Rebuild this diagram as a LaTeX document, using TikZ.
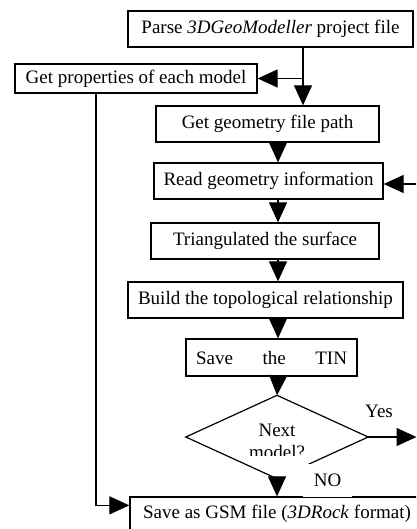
\documentclass[tikz,border=0pt]{standalone}
\usepackage{fontspec}
\setmainfont{Liberation Serif}
\usetikzlibrary{arrows.meta,shapes.geometric,calc}
\begin{document}
\begin{tikzpicture}[x=1pt,y=-1pt,
  every node/.style={font=\fontsize{19}{22}\selectfont},
  box/.style={draw,line width=1.3pt,rectangle,inner sep=0pt,anchor=center},
  arr/.style={line width=1.2pt,-{Triangle[length=20pt,width=18pt]}},
  ln/.style={line width=1.2pt}]
\clip (0,0) rectangle (416,529);
\fill[white] (0,0) rectangle (416,529);
% axes
\coordinate (axis) at (278,0);
\coordinate (pline) at (303,0);
\coordinate (lline) at (96,0);
% boxes
\node[box,minimum width=285pt,minimum height=36pt] (parse) at (270.5,29) {Parse \textit{3DGeoModeller} project file};
\node[box,minimum width=242pt,minimum height=29pt] (props) at (136,78.5) {Get properties of each model};
\node[box,minimum width=223pt,minimum height=36pt] (geom) at (267.5,124) {Get geometry file path};
\node[box,minimum width=229pt,minimum height=36pt] (read) at (268.5,181) {Read geometry information};
\node[box,minimum width=228pt,minimum height=36pt] (tri) at (265,241) {Triangulated the surface};
\node[box,minimum width=275pt,minimum height=36pt] (build) at (265.5,300) {Build the topological relationship};
\node[box,minimum width=171pt,minimum height=37pt] (tin) at (271.5,357.5) {\makebox[151pt][s]{Save\hfill the\hfill TIN}};
\node[diamond,draw=none,inner sep=0pt,minimum width=182pt,minimum height=83pt,aspect=2.2] (dec) at (277,437) {};
\draw[ln] (dec.north) -- (dec.east) -- ($(dec.east)!0.66!(dec.south)$);
\draw[ln] (dec.south) -- (dec.west) -- (dec.north);
\begin{scope}
\clip (180,390) rectangle (380,455);
\node[align=center] (dectext) at (277,441) {Next\\model?};
\end{scope}
\node[box,minimum width=294pt,minimum height=34pt] (gsm) at (277,514) {Save as GSM file (\textit{3DRock} format)};
% connectors
\draw[arr] (parse.south -| pline) -- (geom.north -| pline);
\draw[arr] (props.east -| pline) -- (props.east);
\draw[arr] (geom.south -| axis) -- (read.north -| axis);
\draw[arr] (read.south -| axis) -- (tri.north -| axis);
\draw[arr] (tri.south -| axis) -- (build.north -| axis);
\draw[arr] (build.south -| axis) -- (tin.north -| axis);
\draw[arr] (tin.south -| axis) -- (dec.north);
\coordinate (fb) at (417,184);
\draw[arr] (fb) -- (read.east |- fb);
\coordinate (yesend) at (416.5,437);
\draw[arr] (dec.east) -- (yesend);
\node (yes) at (379,411) {Yes};
\coordinate (gsmin) at ($(gsm.north west)+(0,9)$);
\draw[arr] (props.south -| lline) |- (gsmin);
\node[fill=white,inner sep=0pt,minimum width=49pt,minimum height=33pt] (no) at (327.5,480.5) {NO};
\draw[arr] (dec.south) -- (gsm.north -| dec.south);
\end{tikzpicture}
\end{document}
